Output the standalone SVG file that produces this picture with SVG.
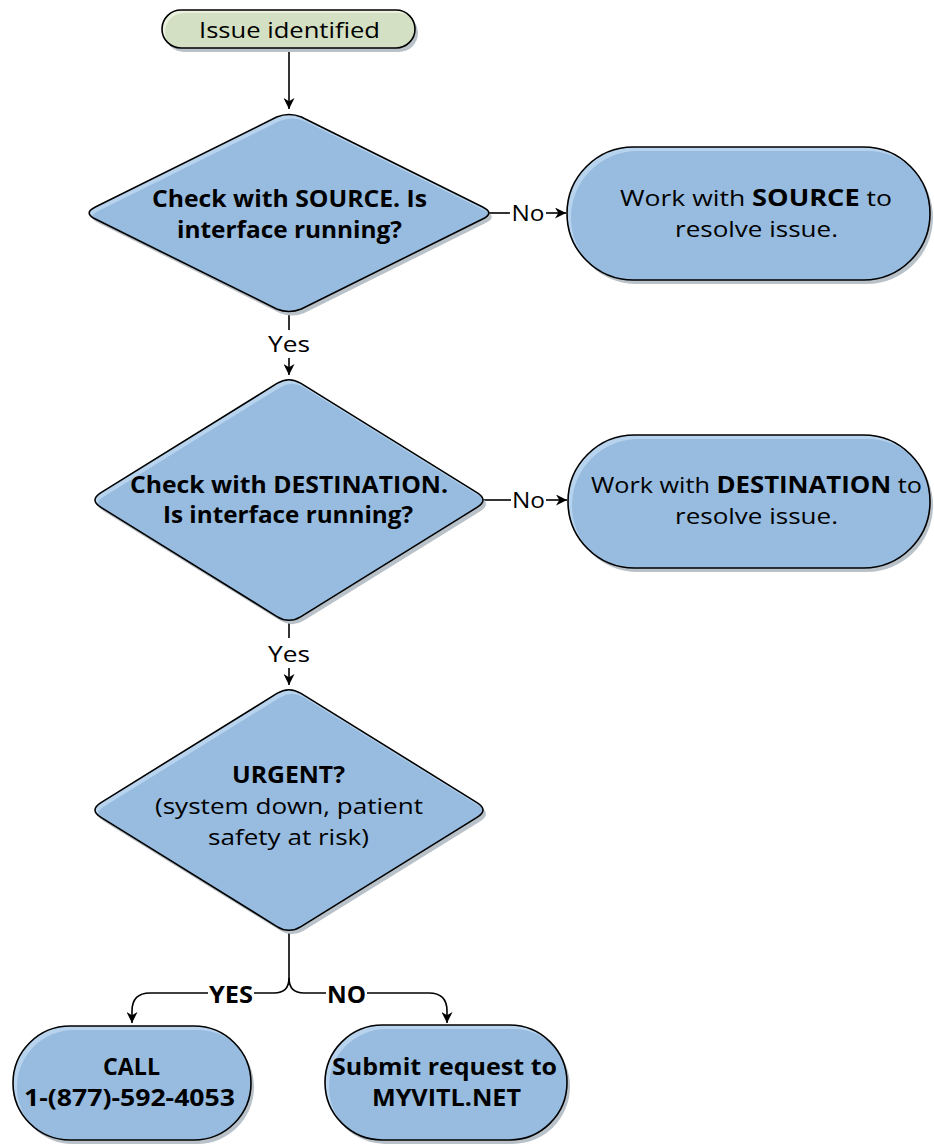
<svg xmlns="http://www.w3.org/2000/svg" xmlns:xlink="http://www.w3.org/1999/xlink" width="934" height="1144" viewBox="0 0 934 1144">
<style>
  .shadow { fill: #b9c1c9; }
  .hl { fill: #b7d3ee; }
  .body { fill: #97bcdf; }
  .hlg { fill: #eaf1df; }
  .bodyg { fill: #d4e0c3; }
  .outline { fill: none; stroke: #000; stroke-width: 1.6; }
  text { font-family: "Open Sans", "Liberation Sans", sans-serif; font-size: 22.5px; fill: #000; text-anchor: middle; }
  .b { font-weight: bold; font-size: 23px; }
  .conn { fill: none; stroke: #000; stroke-width: 1.6; }
  .arrow { marker-end: url(#ah); }
</style>
<defs>
  <marker id="ah" markerUnits="userSpaceOnUse" markerWidth="11" markerHeight="11" viewBox="0 0 10 10" refX="10" refY="5" orient="auto">
    <path d="M0,0 L10,5 L0,10 L3,5 Z" fill="#000"/>
  </marker>
  <rect id="s-start" x="162" y="10" width="253" height="38" rx="19" ry="19"/>
  <path id="s-d1" d="M301.36,117.06 L482.64,206.94 Q495,213 482.64,219.06 L301.36,308.94 Q289,314 276.64,308.94 L95.36,219.06 Q83,213 95.36,206.94 L276.64,117.06 Q289,112 301.36,117.06 Z"/>
  <rect id="s-p1" x="567" y="147" width="363" height="133" rx="66.5" ry="66.5"/>
  <path id="s-d2" d="M301,383.44 L477,492.56 Q489,500 477,507.44 L301,616.56 Q289,624 277,616.56 L101,507.44 Q89,500 101,492.56 L277,383.44 Q289,376 301,383.44 Z"/>
  <rect id="s-p2" x="568" y="435" width="362" height="133" rx="66.5" ry="66.5"/>
  <path id="s-d3" d="M301,693.44 L477,802.56 Q489,810 477,817.44 L301,926.56 Q289,934 277,926.56 L101,817.44 Q89,810 101,802.56 L277,693.44 Q289,686 301,693.44 Z"/>
  <rect id="s-call" x="13" y="1026" width="238" height="114" rx="57" ry="57"/>
  <rect id="s-sub" x="325" y="1025" width="242" height="115" rx="57.5" ry="57.5"/>
  <clipPath id="c-start"><use href="#s-start"/></clipPath>
  <clipPath id="c-d1"><use href="#s-d1"/></clipPath>
  <clipPath id="c-p1"><use href="#s-p1"/></clipPath>
  <clipPath id="c-d2"><use href="#s-d2"/></clipPath>
  <clipPath id="c-p2"><use href="#s-p2"/></clipPath>
  <clipPath id="c-d3"><use href="#s-d3"/></clipPath>
  <clipPath id="c-call"><use href="#s-call"/></clipPath>
  <clipPath id="c-sub"><use href="#s-sub"/></clipPath>
</defs>

<g id="connectors">
  <path class="conn arrow" d="M289,48 V109"/>
  <path class="conn" d="M489,213 H510"/>
  <path class="conn arrow" d="M546,213 H566"/>
  <text x="528" y="221" textLength="33" lengthAdjust="spacingAndGlyphs">No</text>
  <path class="conn" d="M289,313 V330"/>
  <text x="289" y="352" textLength="42" lengthAdjust="spacingAndGlyphs">Yes</text>
  <path class="conn arrow" d="M289,358 V375"/>
  <path class="conn" d="M483,500 H511"/>
  <path class="conn arrow" d="M546,500 H567"/>
  <text x="528.5" y="508" textLength="33" lengthAdjust="spacingAndGlyphs">No</text>
  <path class="conn" d="M289,621 V638"/>
  <text x="289" y="662" textLength="42" lengthAdjust="spacingAndGlyphs">Yes</text>
  <path class="conn arrow" d="M289,668 V685"/>
  <path class="conn" d="M289,931 V978 Q289,993 274,993 H254"/>
  <text class="b" x="231" y="1003" textLength="44" lengthAdjust="spacingAndGlyphs">YES</text>
  <path class="conn arrow" d="M208,993 H150 Q132,993 132,1011 V1023"/>
  <path class="conn" d="M289,978 Q289,993 304,993 H326"/>
  <text class="b" x="346.5" y="1003" textLength="39" lengthAdjust="spacingAndGlyphs">NO</text>
  <path class="conn arrow" d="M367,993 H429 Q447,993 447,1011 V1023"/>
</g>

<g id="n-start">
  <use href="#s-start" class="shadow" transform="translate(3,4)"/>
  <use href="#s-start" class="hlg"/>
  <g clip-path="url(#c-start)"><use href="#s-start" class="bodyg" transform="translate(3,3)"/></g>
  <use href="#s-start" class="outline"/>
  <text x="289.5" y="38" textLength="181" lengthAdjust="spacingAndGlyphs">Issue identified</text>
</g>

<g id="n-d1">
  <use href="#s-d1" class="shadow" transform="translate(3,4)"/>
  <use href="#s-d1" class="hl"/>
  <g clip-path="url(#c-d1)"><use href="#s-d1" class="body" transform="translate(3,4)"/></g>
  <use href="#s-d1" class="outline"/>
  <text class="b" x="289.5" y="207" textLength="275" lengthAdjust="spacingAndGlyphs">Check with SOURCE. Is</text>
  <text class="b" x="289.5" y="238" textLength="225" lengthAdjust="spacingAndGlyphs">interface running?</text>
</g>

<g id="n-p1">
  <use href="#s-p1" class="shadow" transform="translate(3,4)"/>
  <use href="#s-p1" class="hl"/>
  <g clip-path="url(#c-p1)"><use href="#s-p1" class="body" transform="translate(4,4)"/></g>
  <use href="#s-p1" class="outline"/>
  <text x="756" y="206" textLength="272" lengthAdjust="spacingAndGlyphs">Work with <tspan class="b">SOURCE</tspan> to</text>
  <text x="756.5" y="237" textLength="163" lengthAdjust="spacingAndGlyphs">resolve issue.</text>
</g>

<g id="n-d2">
  <use href="#s-d2" class="shadow" transform="translate(3,4)"/>
  <use href="#s-d2" class="hl"/>
  <g clip-path="url(#c-d2)"><use href="#s-d2" class="body" transform="translate(3,4)"/></g>
  <use href="#s-d2" class="outline"/>
  <text class="b" x="289" y="493" textLength="318" lengthAdjust="spacingAndGlyphs">Check with DESTINATION.</text>
  <text class="b" x="288" y="523" textLength="250" lengthAdjust="spacingAndGlyphs">Is interface running?</text>
</g>

<g id="n-p2">
  <use href="#s-p2" class="shadow" transform="translate(3,4)"/>
  <use href="#s-p2" class="hl"/>
  <g clip-path="url(#c-p2)"><use href="#s-p2" class="body" transform="translate(4,4)"/></g>
  <use href="#s-p2" class="outline"/>
  <text x="756.5" y="493" textLength="331" lengthAdjust="spacingAndGlyphs">Work with <tspan class="b">DESTINATION</tspan> to</text>
  <text x="756.5" y="524" textLength="163" lengthAdjust="spacingAndGlyphs">resolve issue.</text>
</g>

<g id="n-d3">
  <use href="#s-d3" class="shadow" transform="translate(3,4)"/>
  <use href="#s-d3" class="hl"/>
  <g clip-path="url(#c-d3)"><use href="#s-d3" class="body" transform="translate(3,4)"/></g>
  <use href="#s-d3" class="outline"/>
  <text class="b" x="288.5" y="783" textLength="113" lengthAdjust="spacingAndGlyphs">URGENT?</text>
  <text x="289" y="814" textLength="268" lengthAdjust="spacingAndGlyphs">(system down, patient</text>
  <text x="288.5" y="845" textLength="161" lengthAdjust="spacingAndGlyphs">safety at risk)</text>
</g>

<g id="n-call">
  <use href="#s-call" class="shadow" transform="translate(3,4)"/>
  <use href="#s-call" class="hl"/>
  <g clip-path="url(#c-call)"><use href="#s-call" class="body" transform="translate(4,4)"/></g>
  <use href="#s-call" class="outline"/>
  <text class="b" x="131.5" y="1075" textLength="57" lengthAdjust="spacingAndGlyphs">CALL</text>
  <text class="b" x="129.5" y="1106" textLength="211" lengthAdjust="spacingAndGlyphs">1-(877)-592-4053</text>
</g>

<g id="n-sub">
  <use href="#s-sub" class="shadow" transform="translate(3,4)"/>
  <use href="#s-sub" class="hl"/>
  <g clip-path="url(#c-sub)"><use href="#s-sub" class="body" transform="translate(4,4)"/></g>
  <use href="#s-sub" class="outline"/>
  <text class="b" x="444.5" y="1075" textLength="225" lengthAdjust="spacingAndGlyphs">Submit request to</text>
  <text class="b" x="446.5" y="1106" textLength="149" lengthAdjust="spacingAndGlyphs">MYVITL.NET</text>
</g>
</svg>
